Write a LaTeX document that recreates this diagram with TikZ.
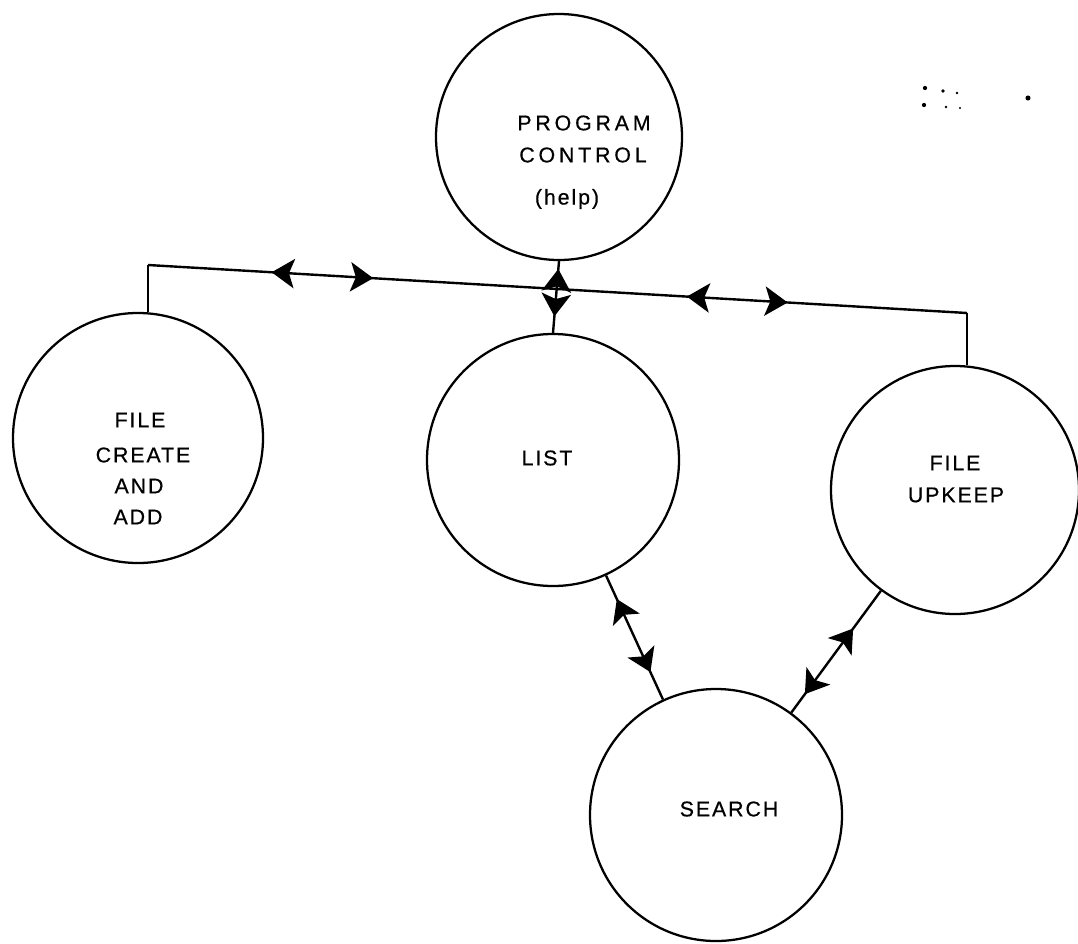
\documentclass[tikz,border=0pt]{standalone}
\usepackage{fontspec}
\setmainfont{Liberation Sans}
\newfontfamily\labwide[LetterSpace=18,FakeBold=0.6]{Liberation Sans}
\newfontfamily\labnorm[LetterSpace=9,FakeBold=0.6]{Liberation Sans}
\usetikzlibrary{arrows.meta,decorations.markings}
\tikzset{
  myarr/.tip={Stealth[length=17pt,width=22pt,inset=4pt]},
  bub/.style={circle, draw, line width=1.7pt, inner sep=0pt, minimum size=#1*1.5pt},
  wire/.style={line width=1.8pt, line join=round},
  txtw/.style={inner sep=0pt, font=\labwide\fontsize{16}{19}\selectfont},
  txtn/.style={inner sep=0pt, font=\labnorm\fontsize{16}{19}\selectfont},
  speck/.style={fill=black}
}
\begin{document}
\begin{tikzpicture}[x=0.75pt, y=-0.75pt]
\useasboundingbox (0,0) rectangle (1078,943);

% circles
\node[bub=123] (pc) at (559,137) {};
\node[bub=125] (fca) at (138,438) {};
\node[bub=126] (list) at (553,460) {};
\node[bub=124] (fu) at (955,490) {};
\node[bub=126] (search) at (716,815) {};

% labels
\node[txtw] (t1) at (584,123) {PROGRAM};
\node[txtw] (t2) at (583,155) {CONTROL};
\node[txtn] (t3) at (567,199) {(help)};
\node[txtn] (t4) at (140,420) {FILE};
\node[txtn] (t5) at (143,455) {CREATE};
\node[txtn] (t6) at (139,486) {AND};
\node[txtn] (t7) at (138,517) {ADD};
\node[txtn] (t8) at (547,458) {LIST};
\node[txtn] (t9) at (955,463) {FILE};
\node[txtn] (t10) at (956,495) {UPKEEP};
\node[txtn] (t11) at (729,809) {SEARCH};

% bus
\coordinate (bl) at (148,265);
\coordinate (br) at (967,313);
\draw[wire] (fca.north -| bl) -- (bl);
\draw[wire] (br) -- (fu.north -| br);
\draw[wire, postaction={decorate}, decoration={markings,
    mark=at position 0.151 with {\arrowreversed{myarr}},
    mark=at position 0.275 with {\arrow{myarr}},
    mark=at position 0.658 with {\arrowreversed{myarr}},
    mark=at position 0.781 with {\arrow{myarr}}}]
  (bl) -- (br);

% program control <-> list
\draw[wire, postaction={decorate}, decoration={markings,
    mark=at position 0.11 with {\arrowreversed{myarr}},
    mark=at position 0.77 with {\arrow{myarr}}}]
  (pc.south) -- (list.north);

% list <-> search
\draw[wire, postaction={decorate}, decoration={markings,
    mark=at position 0.19 with {\arrowreversed{myarr}},
    mark=at position 0.78 with {\arrow{myarr}}}]
  (list) -- (search);

% file upkeep <-> search
\draw[wire, postaction={decorate}, decoration={markings,
    mark=at position 0.31 with {\arrowreversed{myarr}},
    mark=at position 0.85 with {\arrow{myarr}}}]
  (fu) -- (search);

% specks
\fill[speck] (925,88) circle[radius=1.6pt];
\fill[speck] (943,91) circle[radius=1.4pt];
\fill[speck] (957,93) circle[radius=1.1pt];
\fill[speck] (924,105) circle[radius=1.6pt];
\fill[speck] (946,107) circle[radius=1.1pt];
\fill[speck] (960,108) circle[radius=0.9pt];
\fill[speck] (1028,98) circle[radius=1.9pt];
\end{tikzpicture}
\end{document}
